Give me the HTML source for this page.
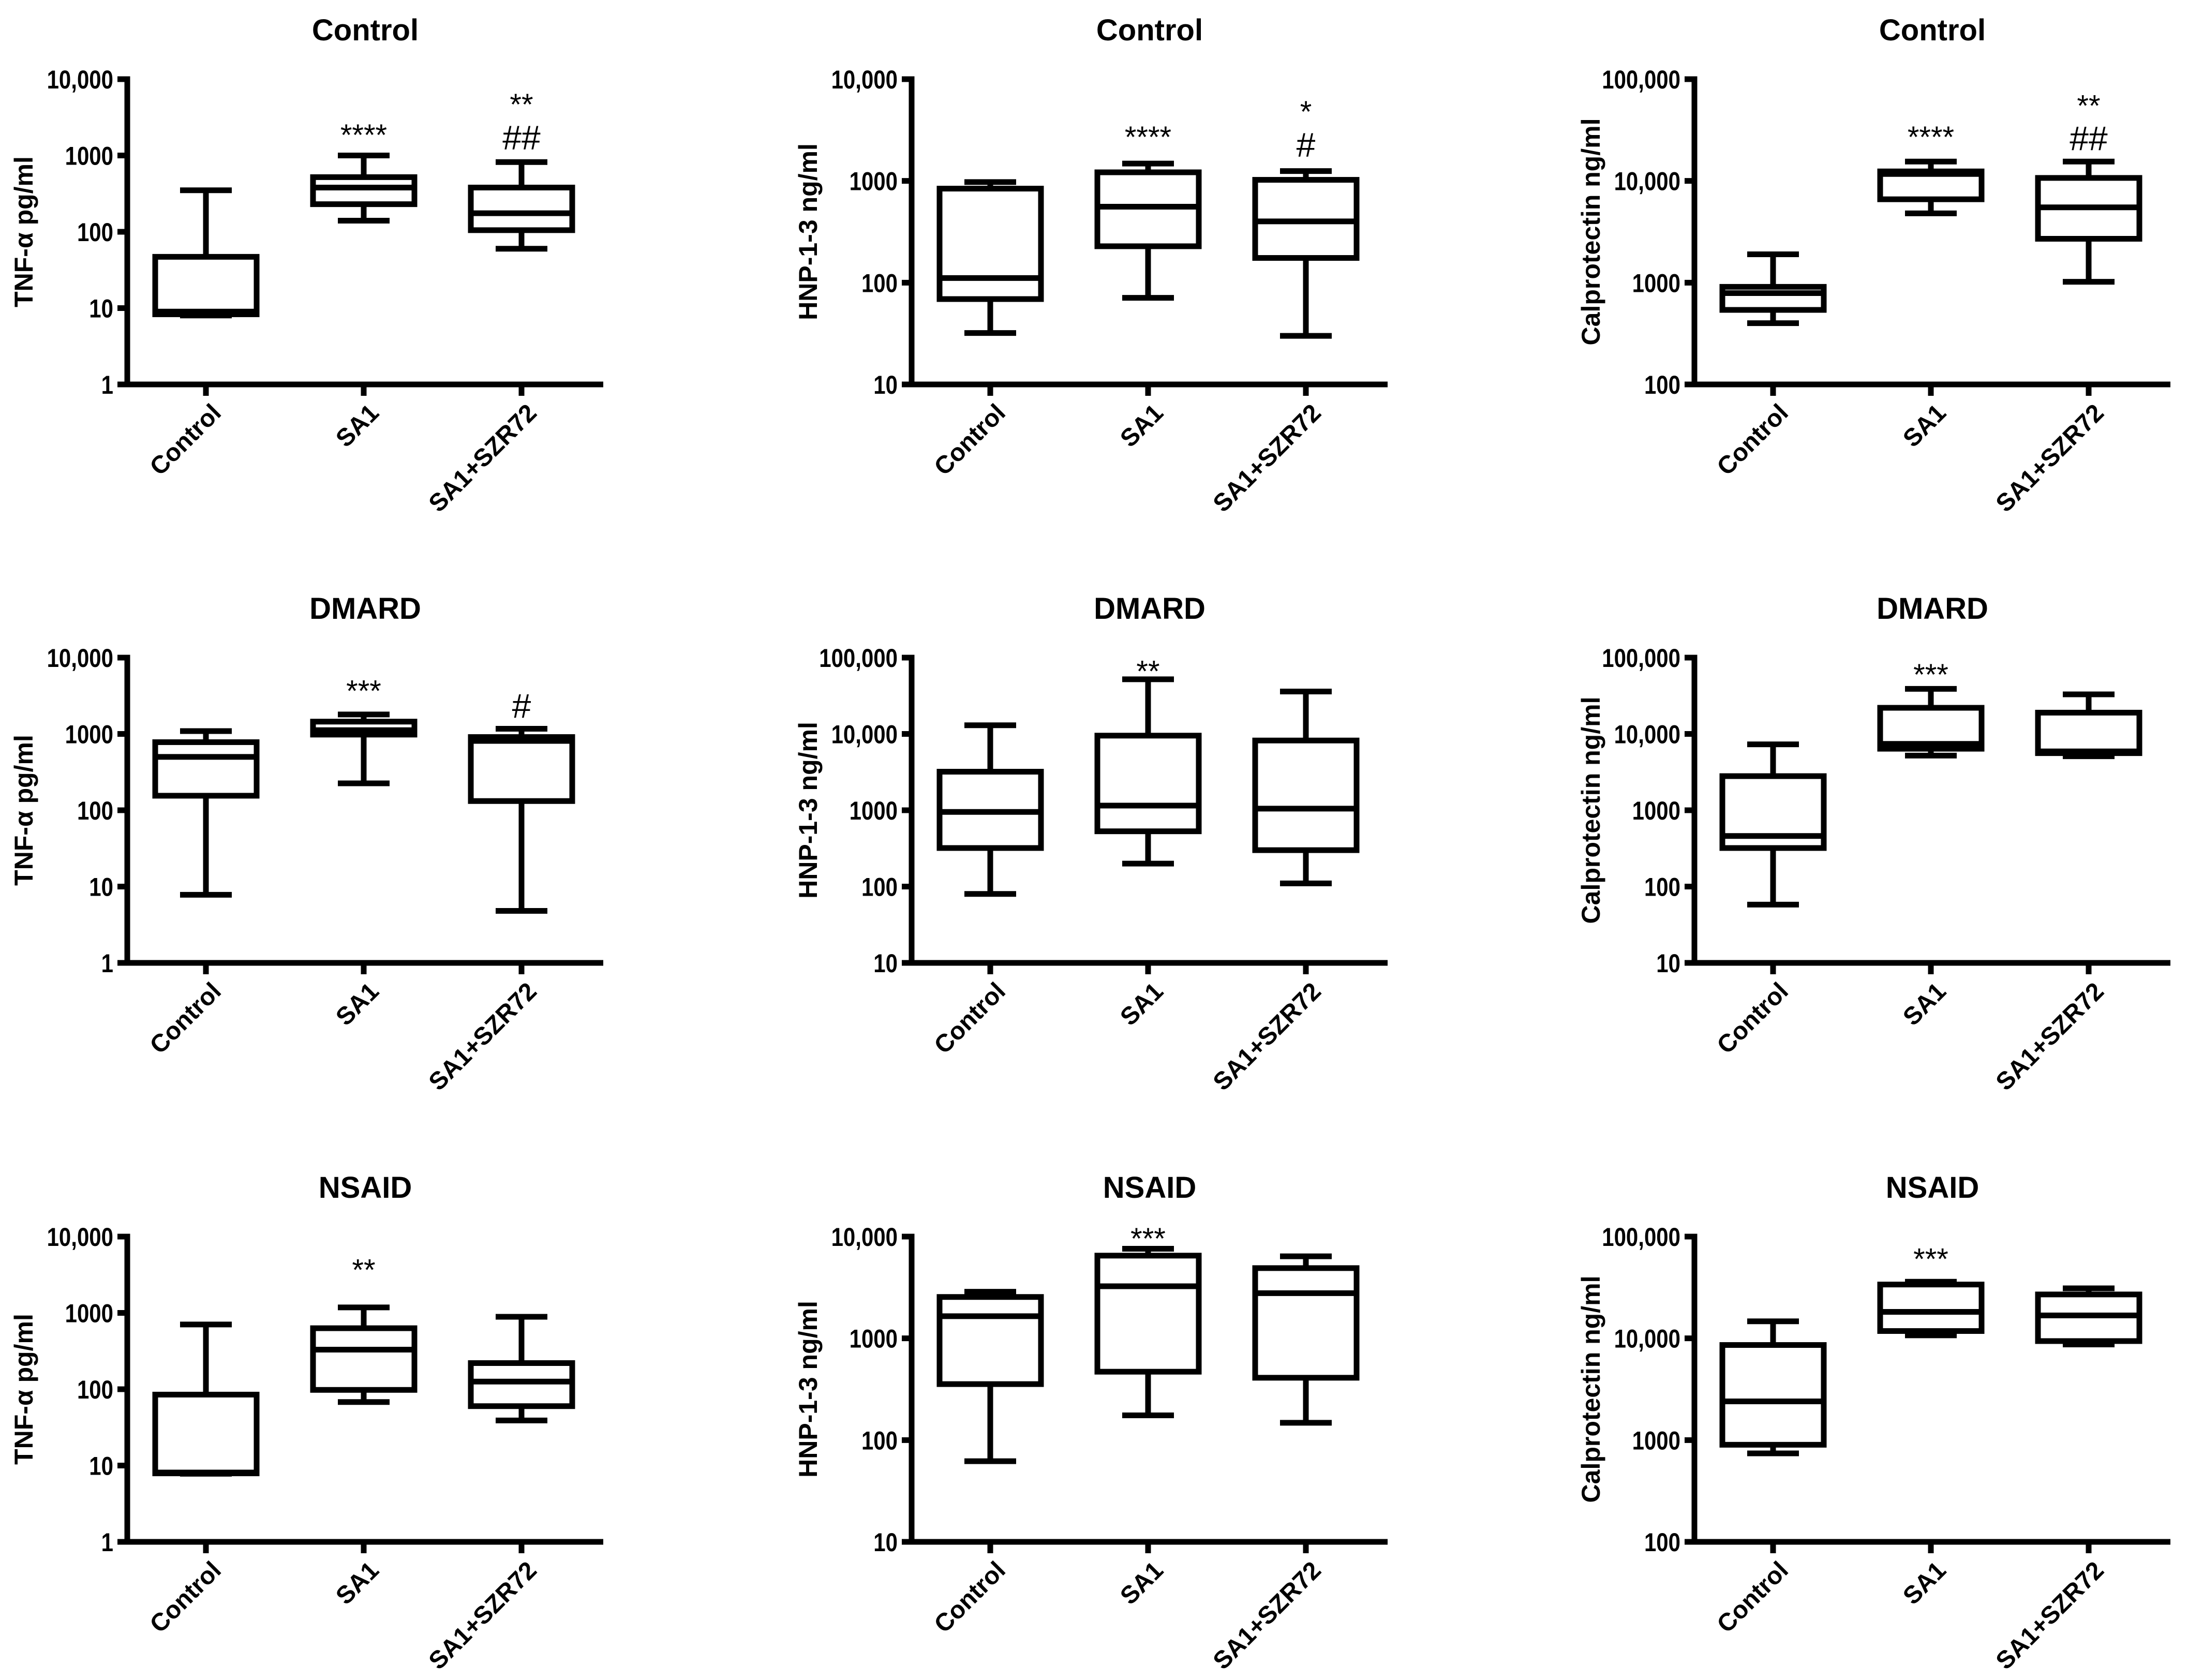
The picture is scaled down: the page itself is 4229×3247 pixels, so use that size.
<!DOCTYPE html>
<html><head><meta charset="utf-8"><style>
html,body{margin:0;padding:0;background:#fff;}
svg{display:block;font-family:"Liberation Sans",Arial,sans-serif;}
</style></head><body>
<svg id="fig" width="4229" height="3247" viewBox="0 0 4229 3247" xmlns="http://www.w3.org/2000/svg"></svg>
<script>
// shared categories
const categories = ["Control", "SA1", "SA1+SZR72"];

// Panel titles, y-axis titles, axis ranges (log10 exponents)
const panelTitles = ["Control","Control","Control","DMARD","DMARD","DMARD","NSAID","NSAID","NSAID"];
const yTitles = ["TNF-α pg/ml","HNP-1-3 ng/ml","Calprotectin ng/ml","TNF-α pg/ml","HNP-1-3 ng/ml","Calprotectin ng/ml","TNF-α pg/ml","HNP-1-3 ng/ml","Calprotectin ng/ml"];
const yMinExp = [0,1,2,0,1,1,0,1,2];
const yMaxExp = [4,4,5,4,5,5,4,4,5];

// box statistics per panel: [Control, SA1, SA1+SZR72]
const minVals = [
  [8,140,60],[32,71,30],[400,4800,1020],
  [7.8,225,4.8],[80,200,110],[58,5200,5100],
  [7.8,68,39],[62,175,148],[740,10700,8700]];
const q1Vals = [
  [8.3,230,105],[69,228,175],[540,6600,2700],
  [155,980,132],[320,530,300],[320,6400,5600],
  [7.9,98,60],[355,470,410],[900,11800,9400]];
const medVals = [
  [9,380,175],[111,558,400],[790,11700,5500],
  [500,1120,810],[950,1150,1050],[460,7400,5900],
  [8.1,330,126],[1650,3250,2780],[2400,18200,16800]];
const q3Vals = [
  [47,520,380],[840,1215,1025],[910,12400,10700],
  [780,1450,910],[3200,9500,8200],[2800,22000,19000],
  [85,630,220],[2550,6500,4900],[8600,33800,27000]];
const maxVals = [
  [350,1000,820],[975,1480,1250],[1900,15500,15500],
  [1090,1800,1170],[13000,52000,36000],[7300,39000,33000],
  [705,1180,890],[2870,7600,6400],[14700,36000,31000]];

// significance annotations: panel index, category index, label, value position
const annPanel = [0,0,0, 1,1,1, 2,2,2, 3,3, 4, 5, 6, 7, 8];
const annCat   = [1,2,2, 1,2,2, 1,2,2, 1,2, 1, 1, 1, 1, 1];
const annText  = ["****","**","##","****","*","#","****","**","##","***","#","**","***","**","***","***"];
const annValue = [2240,5600,1700, 3100,5500,2250, 31000,63000,26000, 4400,2300, 80000, 72000, 4400, 11000, 69000];

// layout
const colX = [246, 1762, 3275];
const rowTop = [153, 1271, 2390];
const plotH = 590, axisLen = 920, catOff = [152, 457, 762];
const boxHalf = 98, capHalf = 50, sw = 11;

const NS = "http://www.w3.org/2000/svg";
const svg = document.getElementById("fig");
function mk(tag, attrs, parent){
  const e = document.createElementNS(NS, tag);
  for (const k in attrs) e.setAttribute(k, attrs[k]);
  (parent||svg).appendChild(e);
  return e;
}
function fmt(v){ return v >= 10000 ? v.toLocaleString("en-US") : String(v); }

for (let p = 0; p < 9; p++) {
  const ax = colX[p % 3], top = rowTop[Math.floor(p / 3)], bot = top + plotH;
  const lo = yMinExp[p], hi = yMaxExp[p];
  const y = v => bot - (Math.log10(v) - lo) / (hi - lo) * plotH;
  const x = i => ax + catOff[i];
  const g = mk("g", {});
  
  

  const t = mk("text", {x: ax + 460, y: top - 75, "text-anchor": "middle", "font-size": 58, "font-weight": "bold"}, g);
  t.textContent = panelTitles[p];
  
  

  const yt = mk("text", {x: 0, y: 0, "text-anchor": "middle", "font-size": 50, "font-weight": "bold",
    transform: "translate(" + (ax - 183) + "," + (top + plotH / 2) + ") rotate(-90)"}, g);
  yt.textContent = yTitles[p];
  
  

  const axes = mk("path", {d: "M" + ax + "," + (top - 5.5) + " V" + bot + " M" + (ax - 19) + "," + bot + " H" + (ax + axisLen),
    stroke: "#000", "stroke-width": sw, fill: "none"}, g);
  
  

  for (let e = lo; e <= hi; e++) {
    const v = Math.pow(10, e), yy = y(v);
    const tk = mk("line", {x1: ax - 19, x2: ax, y1: yy, y2: yy, stroke: "#000", "stroke-width": sw}, g);
    
    
    const tl = mk("text", {x: 0, y: 0, "text-anchor": "end", "font-size": 50, "font-weight": "bold",
      transform: "translate(" + (ax - 27) + "," + (yy + 18) + ") scale(0.84,1)"}, g);
    tl.textContent = fmt(v);
    
    
  }

  for (let i = 0; i < 3; i++) {
    const cx = x(i);
    const xt = mk("line", {x1: cx, x2: cx, y1: bot, y2: bot + 22, stroke: "#000", "stroke-width": sw}, g);
    
    
    const xl = mk("text", {x: 0, y: 0, "text-anchor": "end", "font-size": 48, "font-weight": "bold",
      transform: "translate(" + (cx + 32) + "," + (bot + 58) + ") rotate(-45)"}, g);
    xl.textContent = categories[i];
    
    

    const yMin = y(minVals[p][i]), yQ1 = y(q1Vals[p][i]), yMed = y(medVals[p][i]), yQ3 = y(q3Vals[p][i]), yMax = y(maxVals[p][i]);
    const wh = mk("path", {d: "M" + cx + "," + yQ3 + " V" + yMax + " M" + (cx - capHalf) + "," + yMax + " H" + (cx + capHalf) +
      " M" + cx + "," + yQ1 + " V" + yMin + " M" + (cx - capHalf) + "," + yMin + " H" + (cx + capHalf),
      stroke: "#000", "stroke-width": sw, fill: "none"}, g);
    
    
    const bx = mk("rect", {x: cx - boxHalf, y: yQ3, width: 2 * boxHalf, height: Math.max(0, yQ1 - yQ3),
      stroke: "#000", "stroke-width": sw, fill: "#fff"}, g);
    
    
    const md = mk("line", {x1: cx - boxHalf, x2: cx + boxHalf, y1: yMed, y2: yMed, stroke: "#000", "stroke-width": sw}, g);
    
    
  }

  for (let k = 0; k < annPanel.length; k++) {
    if (annPanel[k] !== p) continue;
    const hash = annText[k].indexOf("#") >= 0;
    const at = mk("text", {x: x(annCat[k]), y: y(annValue[k]) + (hash ? 22 : 32), "text-anchor": "middle",
      "font-size": hash ? 66 : 58}, g);
    at.textContent = annText[k];
    
    
  }
}
</script>
</body></html>
